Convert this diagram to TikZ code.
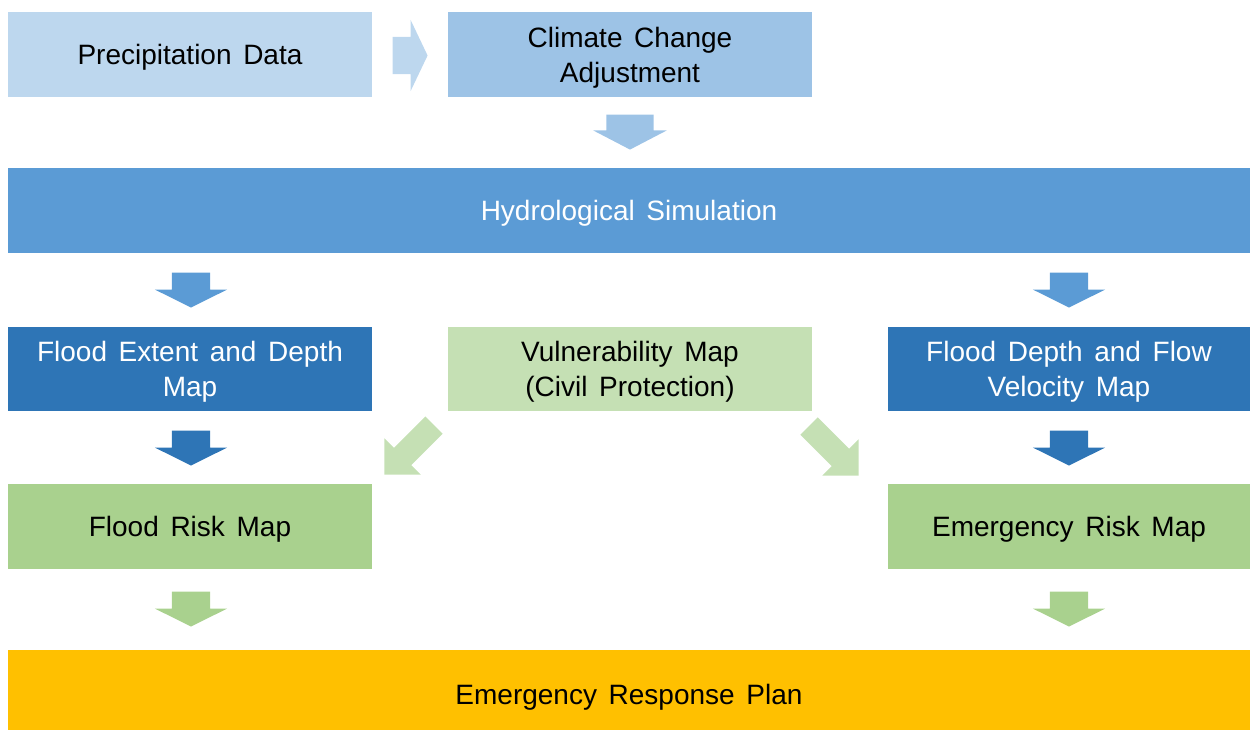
\documentclass[tikz,border=0pt]{standalone}
\usepackage{fontspec}
\setmainfont{Liberation Sans}[WordSpace=1.5]
\usetikzlibrary{shapes.arrows, calc}

% Office palette
\definecolor{paleblue}{HTML}{BDD7EE}
\definecolor{lightblue}{HTML}{9DC3E6}
\definecolor{midblue}{HTML}{5B9BD5}
\definecolor{darkblue}{HTML}{2E75B6}
\definecolor{palegreen}{HTML}{C5E0B4}
\definecolor{midgreen}{HTML}{A9D18E}
\definecolor{gold}{HTML}{FFC000}

\begin{document}
\begin{tikzpicture}[x=1pt, y=-1pt,
    box/.style={minimum width=364pt, minimum height=85pt, inner sep=0pt, align=center,
        text depth=0pt, font=\fontsize{28}{35}\selectfont},
    widebox/.style={box, minimum width=1242pt},
    blockarrow/.style={single arrow, anchor=tip, inner xsep=0pt, inner ysep=19pt, minimum height=35pt,
        single arrow head extend=17pt, single arrow tip angle=127}]

    \useasboundingbox (0,0) rectangle (1250,729);

    % Top row
    \node[box, fill=paleblue] (prec) at (190,54.5) {Precipitation Data};
    \node[box, fill=lightblue] (clim) at (630,54.5) {Climate Change\\Adjustment};

    % Simulation
    \node[widebox, fill=midblue, text=white, text depth=-4pt] (hydro) at (629,210.5) {Hydrological Simulation};

    % Hazard maps
    \node[box, fill=darkblue, text=white, minimum height=84pt] (extent) at (190,369) {Flood Extent and Depth\\Map};
    \node[box, fill=palegreen, minimum height=84pt] (vuln) at (630,369) {Vulnerability Map\\(Civil Protection)};
    \node[box, fill=darkblue, text=white, minimum height=84pt, minimum width=362pt] (velocity) at (1069,369) {Flood Depth and Flow\\Velocity Map};

    % Risk maps
    \node[box, fill=midgreen] (floodrisk) at (190,526.5) {Flood Risk Map};
    \node[box, fill=midgreen, minimum width=362pt] (emrisk) at (1069,526.5) {Emergency Risk Map};

    % Plan (runs off the bottom edge)
    \node[widebox, fill=gold, minimum height=88pt] (plan) at (629,694) {Emergency Response Plan};

    % Block arrows, placed by their tips
    \node[blockarrow, fill=paleblue, inner ysep=18.5pt, single arrow tip angle=129]
        (a1) at ($(clim.west)+(-20,1)$) {};
    \node[blockarrow, fill=lightblue, rotate=-90, inner ysep=23.5pt, single arrow head extend=13pt,
        single arrow tip angle=125] (a2) at ($(clim.south |- hydro.north)+(0,-18)$) {};
    \node[blockarrow, fill=midblue, rotate=-90] (a3) at ($(extent.north)+(1,-19)$) {};
    \node[blockarrow, fill=midblue, rotate=-90] (a4) at ($(velocity.north)+(0,-19)$) {};
    \node[blockarrow, fill=darkblue, rotate=-90] (a5) at ($(floodrisk.north)+(1,-18)$) {};
    \node[blockarrow, fill=darkblue, rotate=-90] (a6) at ($(emrisk.north)+(0,-18)$) {};
    \node[blockarrow, fill=palegreen, rotate=-135, minimum height=70pt, inner ysep=12pt,
        single arrow head extend=13.5pt, single arrow tip angle=90]
        (a7) at ($(floodrisk.north east)+(12,-9)$) {};
    \node[blockarrow, fill=palegreen, rotate=-45, minimum height=70pt, inner ysep=12pt,
        single arrow head extend=13.5pt, single arrow tip angle=90]
        (a8) at ($(emrisk.north west)+(-29,-8)$) {};
    \node[blockarrow, fill=midgreen, rotate=-90] (a9) at ($(plan.north -| floodrisk.south)+(1,-23)$) {};
    \node[blockarrow, fill=midgreen, rotate=-90] (a10) at ($(plan.north -| emrisk.south)+(0,-23)$) {};
\end{tikzpicture}
\end{document}
